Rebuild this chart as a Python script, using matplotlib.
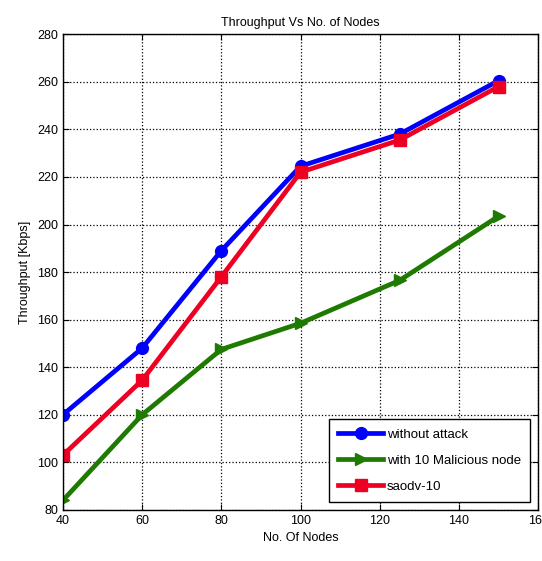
import matplotlib
matplotlib.use("Agg")
import matplotlib.pyplot as plt

nodes = [40, 60, 80, 100, 125, 150]
without_attack = [120, 148, 189, 224.5, 238, 260.5]
malicious = [84, 120, 147.5, 158.5, 176.5, 203.5]
saodv = [103, 134.5, 178, 222, 235.5, 258]

x_ticks = [40, 60, 80, 100, 120, 140, 160]
y_ticks = [80, 100, 120, 140, 160, 180, 200, 220, 240, 260, 280]

plt.rcParams['font.family'] = ['Liberation Sans', 'DejaVu Sans']
fig = plt.figure(figsize=(5.42, 5.61), dpi=100)
ax = fig.add_axes([0.116, 0.091, 0.877, 0.848])

ax.plot(nodes, without_attack, color='#0000ff', lw=3.4, marker='o', ms=8.5, label='without attack')
ax.plot(nodes, malicious, color='#1e7a00', lw=3.4, marker='>', ms=8.5, label='with 10 Malicious node')
ax.plot(nodes, saodv, color='#ee0022', lw=3.4, marker='s', ms=8.5, label='saodv-10')

ax.set_xlim(40, 160)
ax.set_ylim(80, 280)
ax.set_xticks(x_ticks)
ax.set_yticks(y_ticks)
ax.tick_params(direction='in', top=True, right=True, labelsize=9, length=4)
ax.grid(True, linestyle=':', color='black', linewidth=0.9)
for s in ax.spines.values():
    s.set_linewidth(1.0)

ax.set_title('Throughput Vs No. of Nodes', fontsize=9, pad=6)
ax.set_xlabel('No. Of Nodes', fontsize=9)
ax.set_ylabel('Throughput [Kbps]', fontsize=9)

leg = ax.legend(loc='lower right', fontsize=9.5, frameon=True, fancybox=False,
                edgecolor='black', framealpha=1, handlelength=3.4, handletextpad=0.3,
                borderpad=0.7, labelspacing=1.05, borderaxespad=0.6)
leg.get_frame().set_linewidth(1.0)

fig.savefig('out.png', dpi=100)
